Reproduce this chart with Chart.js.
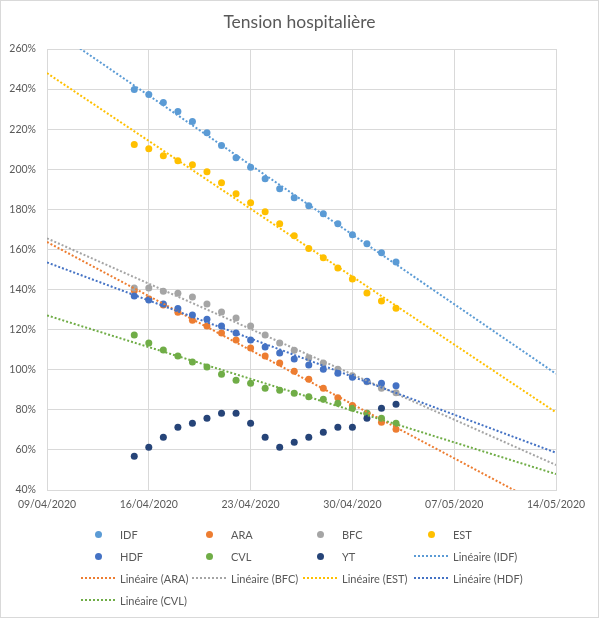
<!DOCTYPE html>
<html>
<head>
<meta charset="utf-8">
<script src="https://cdn.jsdelivr.net/npm/chart.js@4/dist/chart.umd.min.js"></script>
<style>
    html, body { margin: 0; padding: 0; background: #fff; }
    #wrap { position: relative; width: 599px; height: 618px; }
    #frame { position: absolute; left: 0; top: 0; width: 599px; height: 618px; box-sizing: border-box; border: 1px solid #d9d9d9; pointer-events: none; }
    #legend { position: absolute; left: 81px; top: 523px; display: grid; grid-template-columns: repeat(4, 111px); grid-auto-rows: 22px; font-family: Lato, sans-serif; font-size: 11px; color: #595959; }
    .item { display: flex; align-items: center; white-space: nowrap; }
    .mark { width: 34px; height: 22px; display: flex; align-items: center; justify-content: center; margin-right: 5px; flex: none; }
    .dot { width: 7px; height: 7px; border-radius: 50%; }
    .dash { width: 34px; height: 2px; }
</style>
</head>
<body>
<div id="wrap">
    <canvas id="chart" width="599" height="618"></canvas>
    <div id="legend"></div>
    <div id="frame"></div>
</div>
<script>
const dates = ['15/04/2020', '16/04/2020', '17/04/2020', '18/04/2020', '19/04/2020', '20/04/2020', '21/04/2020',
    '22/04/2020', '23/04/2020', '24/04/2020', '25/04/2020', '26/04/2020', '27/04/2020', '28/04/2020',
    '29/04/2020', '30/04/2020', '01/05/2020', '02/05/2020', '03/05/2020'];

const regions = ['IDF', 'ARA', 'BFC', 'EST', 'HDF', 'CVL', 'YT'];
const idf = [239.8, 237.3, 233.3, 228.8, 223.8, 218.2, 211.8, 205.8, 201.0, 195.3, 190.3, 185.8, 181.8, 177.8, 172.8, 167.3, 162.8, 158.3, 153.8];
const ara = [139.5, 135.3, 132.3, 128.7, 124.7, 121.8, 118.3, 114.8, 110.8, 106.8, 103.3, 99.3, 95.3, 90.8, 86.0, 82.2, 78.3, 73.8, 70.3];
const bfc = [140.8, 140.8, 139.2, 138.2, 136.3, 132.8, 128.8, 125.8, 121.8, 117.3, 113.3, 109.7, 106.0, 103.3, 100.3, 97.0, 94.0, 90.8, 88.5];
const est = [212.3, 210.3, 206.8, 204.3, 202.3, 198.8, 193.3, 187.8, 183.3, 178.8, 172.8, 166.8, 160.5, 155.8, 150.8, 145.3, 138.3, 134.3, 130.7];
const hdf = [136.8, 134.8, 132.8, 130.5, 127.3, 125.2, 121.8, 118.3, 114.8, 111.3, 108.3, 105.3, 102.3, 100.3, 98.3, 96.3, 94.2, 93.3, 92.0];
const cvl = [117.3, 113.3, 109.8, 106.8, 103.8, 101.3, 97.8, 94.8, 93.3, 90.8, 89.8, 88.3, 86.5, 85.3, 83.3, 80.8, 78.3, 75.8, 73.3];
const yt = [56.8, 61.3, 66.3, 71.3, 73.3, 75.8, 78.3, 78.3, 73.3, 66.3, 61.3, 63.8, 66.3, 68.8, 71.3, 71.3, 75.8, 80.8, 82.8];

// regions that get a linear trendline
const trendRegions = ['IDF', 'ARA', 'BFC', 'EST', 'HDF', 'CVL'];

const colors = ['#5B9BD5', '#ED7D31', '#A5A5A5', '#FFC000', '#4472C4', '#70AD47', '#264478'];

// axis: 09/04/2020 -> 14/05/2020, one tick a week
const xStart = '09/04/2020';
const xEnd = '14/05/2020';
const yMin = 40, yMax = 260, yStep = 20;

const DAY = 86400000;
const parseDate = s => {
    const [d, m, y] = s.split('/').map(Number);
    return Date.UTC(y, m - 1, d);
};
const t0 = parseDate(xStart);
const dayOf = s => Math.round((parseDate(s) - t0) / DAY);
const fmtDay = n => {
    const d = new Date(t0 + n * DAY);
    const pad = v => String(v).padStart(2, '0');
    return `${pad(d.getUTCDate())}/${pad(d.getUTCMonth() + 1)}/${d.getUTCFullYear()}`;
};

const series = [idf, ara, bfc, est, hdf, cvl, yt];
const xs = dates.map(dayOf);
const xMax = dayOf(xEnd);

// least squares fit, like Excel's "Linéaire" trendline
const fit = (x, y) => {
    const n = x.length;
    const mx = x.reduce((a, b) => a + b, 0) / n;
    const my = y.reduce((a, b) => a + b, 0) / n;
    let sxy = 0, sxx = 0;
    x.forEach((v, i) => { sxy += (v - mx) * (y[i] - my); sxx += (v - mx) ** 2; });
    const slope = sxy / sxx;
    return { slope, intercept: my - slope * mx };
};

const scatterSets = regions.map((name, i) => ({
    type: 'scatter',
    label: name,
    data: xs.map((x, j) => ({ x, y: series[i][j] })),
    backgroundColor: colors[i],
    borderColor: colors[i],
    pointRadius: 3.5,
    pointBorderWidth: 0,
    order: 20 - i
}));

const trendSets = trendRegions.map(name => {
    const i = regions.indexOf(name);
    const { slope, intercept } = fit(xs, series[i]);
    return {
        type: 'line',
        label: `Linéaire (${name})`,
        data: [{ x: 0, y: intercept }, { x: xMax, y: intercept + slope * xMax }],
        borderColor: colors[i],
        borderWidth: 2,
        borderDash: [2, 2],
        pointRadius: 0,
        fill: false,
        order: 5 - i
    };
});

const tickFont = { family: 'Lato', size: 10.5 };

const chart = new Chart(document.getElementById('chart'), {
    type: 'scatter',
    data: { datasets: [...scatterSets, ...trendSets] },
    options: {
        responsive: false,
        animation: false,
        layout: { padding: 0 },
        plugins: {
            legend: { display: false },
            tooltip: { enabled: false },
            title: {
                display: true,
                text: 'Tension hospitalière',
                color: '#595959',
                font: { family: 'Lato', size: 17.5, weight: 'normal', lineHeight: 1.2 },
                padding: { top: 12, bottom: 16 }
            }
        },
        scales: {
            x: {
                type: 'linear',
                min: 0,
                max: xMax,
                grid: { color: '#d9d9d9', drawTicks: false },
                border: { color: '#d9d9d9' },
                ticks: {
                    stepSize: 7,
                    padding: 8,
                    color: '#595959',
                    font: tickFont,
                    maxRotation: 0,
                    callback: v => fmtDay(v)
                },
                afterFit: scale => { scale.height = 128; }
            },
            y: {
                min: yMin,
                max: yMax,
                grid: { color: '#d9d9d9', drawTicks: false },
                border: { color: '#d9d9d9' },
                ticks: {
                    stepSize: yStep,
                    padding: 11,
                    color: '#595959',
                    font: tickFont,
                    callback: v => v + '%'
                },
                afterFit: scale => { scale.width = 47; }
            },
            // empty right-hand axis, only keeps the margin so the title stays centred on the page
            pad: {
                position: 'right',
                grid: { display: false },
                border: { display: false },
                ticks: { display: false },
                afterFit: scale => { scale.width = 43; }
            }
        }
    }
});

// Excel-style legend, four columns
const legend = document.getElementById('legend');
chart.data.datasets.forEach(ds => {
    const item = document.createElement('div');
    item.className = 'item';
    const mark = document.createElement('span');
    mark.className = 'mark';
    const sym = document.createElement('span');
    if (ds.type === 'line') {
        sym.className = 'dash';
        sym.style.background = `repeating-linear-gradient(to right, ${ds.borderColor} 0 2px, transparent 2px 4px)`;
    } else {
        sym.className = 'dot';
        sym.style.background = ds.backgroundColor;
    }
    mark.appendChild(sym);
    const text = document.createElement('span');
    text.textContent = ds.label;
    item.appendChild(mark);
    item.appendChild(text);
    legend.appendChild(item);
});
</script>
</body>
</html>
